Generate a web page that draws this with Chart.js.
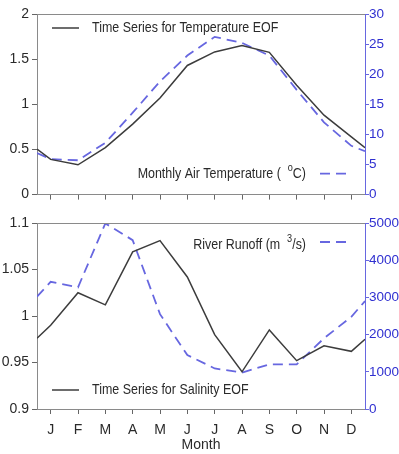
<!DOCTYPE html>
<html>
<head>
<meta charset="utf-8">
<script src="https://cdn.jsdelivr.net/npm/chart.js@4.4.1/dist/chart.umd.min.js"></script>
<style>
  html, body { margin: 0; padding: 0; background: #fff; }
  #wrap { position: relative; width: 399px; height: 454px; }
  .box { position: absolute; left: 0; width: 399px; }
</style>
</head>
<body>
<div id="wrap">
  <div class="box" style="top:0;height:206px"><canvas id="topChart" width="399" height="206"></canvas></div>
  <div class="box" style="top:206px;height:248px"><canvas id="bottomChart" width="399" height="248"></canvas></div>
</div>
<script>
// month labels and x positions (half month at each edge, then one per month)
const months = ['J', 'F', 'M', 'A', 'M', 'J', 'J', 'A', 'S', 'O', 'N', 'D'];
const monthX = [0.5, 1, 2, 3, 4, 5, 6, 7, 8, 9, 10, 11, 12, 12.5];

// top panel
const tempEof = [0.505, 0.39, 0.33, 0.52, 0.78, 1.07, 1.43, 1.58, 1.65, 1.575, 1.21, 0.88, 0.64, 0.52];
const airTemp = [6.9, 5.9, 5.7, 8.6, 13.6, 18.8, 23.1, 26.2, 25.2, 23.1, 17.4, 12.0, 8.1, 7.2];

// bottom panel
const salEof = [0.976, 0.990, 1.025, 1.012, 1.069, 1.081, 1.042, 0.980, 0.940, 0.985, 0.952, 0.968, 0.962, 0.975];
const runoff = [3020, 3420, 3270, 4990, 4540, 2550, 1450, 1090, 980, 1200, 1200, 1900, 2480, 2900];

const FONT = "'Liberation Sans', Arial, sans-serif";
const DARK = '#2a2a2a';
const LINE_BLACK = '#3c3c3c';
const LINE_BLUE = '#6767e0';
const AXIS_BLUE = '#2f2fd0';
const SQUEEZE = 0.83; // the original font is a condensed face

function pts(ys) {
  return ys.map((y, i) => ({ x: monthX[i], y: y }));
}

// draws legend entries anchored to the plot corners + the top frame line
const cornerLegend = {
  id: 'cornerLegend',
  afterDraw(chart, args, opts) {
    const ctx = chart.ctx;
    const a = chart.chartArea;
    ctx.save();
    // top frame line
    ctx.strokeStyle = '#8a8a8a';
    ctx.lineWidth = 1;
    ctx.beginPath();
    ctx.moveTo(a.left, a.top + 0.5);
    ctx.lineTo(a.right, a.top + 0.5);
    ctx.stroke();

    (opts.items || []).forEach(item => {
      const ds = chart.data.datasets[item.dataset];
      const y = item.fromTop ? a.top + item.dy : a.bottom - item.dy;
      // sample line
      ctx.strokeStyle = ds.borderColor;
      ctx.lineWidth = ds.borderWidth;
      ctx.setLineDash(ds.borderDash || []);
      let sx0, sx1, tx;
      if (item.side === 'left') {
        sx0 = a.left + 15; sx1 = a.left + 42; tx = a.left + 55;
      } else {
        sx0 = a.right - 45; sx1 = a.right - 15; tx = null;
      }
      ctx.beginPath();
      ctx.moveTo(sx0, y + (item.sampleDy || 0));
      ctx.lineTo(sx1, y + (item.sampleDy || 0));
      ctx.stroke();
      ctx.setLineDash([]);

      // text with optional superscript parts
      ctx.fillStyle = DARK;
      ctx.textBaseline = 'middle';
      ctx.textAlign = 'left';
      const widths = item.parts.map(p => {
        ctx.font = (p.sup ? '11px ' : '15px ') + FONT;
        return ctx.measureText(p.t).width * SQUEEZE;
      });
      const total = widths.reduce((s, w) => s + w, 0);
      let x = tx !== null ? tx : a.right - 59 - total;
      item.parts.forEach((p, i) => {
        ctx.font = (p.sup ? '11px ' : '15px ') + FONT;
        ctx.save();
        ctx.translate(x, p.sup ? y - 6 : y);
        ctx.scale(SQUEEZE, 1);
        ctx.fillText(p.t, 0, 0);
        ctx.restore();
        x += widths[i];
      });
    });
    ctx.restore();
  }
};

function xScale(showLabels) {
  return {
    type: 'linear',
    min: 0.5,
    max: 12.5,
    afterBuildTicks: s => { s.ticks = months.map((m, i) => ({ value: i + 1 })); },
    afterFit: s => { s.height = showLabels ? 45 : 7; },
    ticks: {
      display: showLabels,
      autoSkip: false,
      maxRotation: 0,
      padding: 8,
      color: DARK,
      font: { family: FONT, size: 14 },
      callback: v => months[v - 1]
    },
    title: {
      display: showLabels,
      text: 'Month',
      color: DARK,
      font: { family: FONT, size: 14 },
      padding: { top: 0, bottom: 0 }
    },
    grid: { drawOnChartArea: false, tickLength: 5, color: '#666' },
    border: { color: '#8a8a8a' }
  };
}

function leftScale(min, max, step) {
  return {
    position: 'left',
    min: min, max: max,
    afterFit: s => { s.width = 37; },
    ticks: {
      stepSize: step, color: DARK, padding: 3,
      font: { family: FONT, size: 14 },
      callback: v => String(parseFloat(v.toFixed(2)))
    },
    grid: { drawOnChartArea: false, tickLength: 5, color: '#666' },
    border: { color: '#8a8a8a' }
  };
}

function rightScale(min, max, step) {
  return {
    position: 'right',
    min: min, max: max,
    afterFit: s => { s.width = 34; },
    ticks: {
      stepSize: step, color: AXIS_BLUE, padding: 0,
      font: { family: FONT, size: 13.5 },
      callback: v => String(v)
    },
    grid: { drawOnChartArea: false, tickLength: 4, color: LINE_BLUE },
    border: { color: LINE_BLUE }
  };
}

function lineDs(label, data, axis, blue) {
  return {
    label: label,
    data: pts(data),
    yAxisID: axis,
    borderColor: blue ? LINE_BLUE : LINE_BLACK,
    borderWidth: blue ? 1.8 : 1.5,
    borderDash: blue ? [10, 6] : [],
    pointRadius: 0,
    tension: 0,
    fill: false
  };
}

const baseOpts = {
  responsive: false,
  animation: false,
  plugins: { legend: { display: false }, tooltip: { enabled: false } }
};

// Top chart: temperature
new Chart(document.getElementById('topChart'), {
  type: 'line',
  data: {
    datasets: [
      lineDs('Time Series for Temperature EOF', tempEof, 'y', false),
      lineDs('Monthly Air Temperature', airTemp, 'y2', true)
    ]
  },
  options: Object.assign({}, baseOpts, {
    layout: { padding: { top: 14, bottom: 0, left: 0, right: 0 } },
    scales: { x: xScale(false), y: leftScale(0, 2, 0.5), y2: rightScale(0, 30, 5) },
    plugins: Object.assign({}, baseOpts.plugins, {
      cornerLegend: {
        items: [
          { dataset: 0, side: 'left', fromTop: true, dy: 14, parts: [{ t: 'Time Series for Temperature EOF' }] },
          { dataset: 1, side: 'right', fromTop: false, dy: 21, sampleDy: 0,
            parts: [{ t: 'Monthly Air Temperature (  ' }, { t: 'o', sup: true }, { t: 'C)' }] }
        ]
      }
    })
  }),
  plugins: [cornerLegend]
});

// Bottom chart: salinity and runoff
new Chart(document.getElementById('bottomChart'), {
  type: 'line',
  data: {
    datasets: [
      lineDs('Time Series for Salinity EOF', salEof, 'y', false),
      lineDs('River Runoff', runoff, 'y2', true)
    ]
  },
  options: Object.assign({}, baseOpts, {
    layout: { padding: { top: 17, bottom: 0, left: 0, right: 0 } },
    scales: { x: xScale(true), y: leftScale(0.9, 1.1, 0.05), y2: rightScale(0, 5000, 1000) },
    plugins: Object.assign({}, baseOpts.plugins, {
      cornerLegend: {
        items: [
          { dataset: 1, side: 'right', fromTop: true, dy: 22, sampleDy: -3,
            parts: [{ t: 'River Runoff (m  ' }, { t: '3', sup: true }, { t: '/s)' }] },
          { dataset: 0, side: 'left', fromTop: false, dy: 19, parts: [{ t: 'Time Series for Salinity EOF' }] }
        ]
      }
    })
  }),
  plugins: [cornerLegend]
});
</script>
</body>
</html>
